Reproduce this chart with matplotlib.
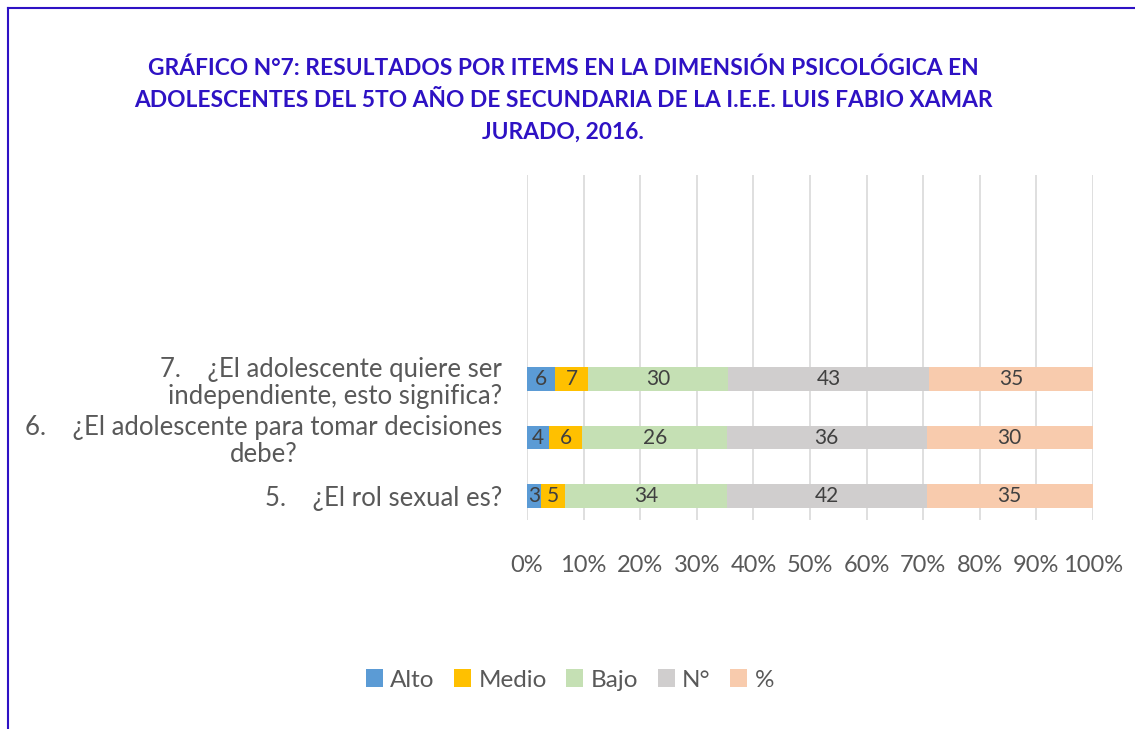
import matplotlib.pyplot as plt
from matplotlib.patches import Patch
from matplotlib.lines import Line2D
import numpy as np

plt.rcParams['font.family'] = ['Lato', 'DejaVu Sans']

items = ["5.    ¿El rol sexual es?",
         "6.    ¿El adolescente para tomar decisiones\ndebe?",
         "7.    ¿El adolescente quiere ser\nindependiente, esto significa?"]
series = ["Alto", "Medio", "Bajo", "N°", "%"]
alto = [3, 4, 6]
medio = [5, 6, 7]
bajo = [34, 26, 30]
numero = [42, 36, 43]
porc = [35, 30, 35]
colors = ['#5B9BD5', '#FFC000', '#C5E0B4', '#D0CECE', '#F8CBAD']

values = np.array([alto, medio, bajo, numero, porc], dtype=float)
totals = values.sum(axis=0)
shares = values / totals

fig = plt.figure(figsize=(11.35, 7.29), dpi=100)
ax = fig.add_axes([527 / 1135, 1 - 520 / 729, (1093 - 527) / 1135, (520 - 175) / 729])

y = np.arange(len(items))
left = np.zeros(len(items))
for i, name in enumerate(series):
    ax.barh(y, shares[i], left=left, height=0.4, color=colors[i], label=name, zorder=2)
    for j in range(len(items)):
        ax.text(left[j] + shares[i][j] / 2, y[j], f"{int(values[i][j])}",
                ha='center', va='center', fontsize=15, color='#404040', zorder=3)
    left += shares[i]

ax.set_xlim(0, 1)
ax.set_ylim(-0.41, 5.49)
ax.set_xticks(np.linspace(0, 1, 11))
ax.set_xticklabels([f"{k}%" for k in range(0, 101, 10)], fontsize=17, color='#595959')
ax.tick_params(axis='x', length=0, pad=25)
ax.set_yticks(y)
ax.set_yticklabels(items, fontsize=18.5, color='#595959', linespacing=1.1)
ax.tick_params(axis='y', length=0, pad=18)
for lab, ma in zip(ax.get_yticklabels(), ['right', 'center', 'right']):
    lab.set_multialignment(ma)
ax.grid(axis='x', color='#D9D9D9', linewidth=1.2, zorder=0)
for s in ax.spines.values():
    s.set_visible(False)

fig.text(563 / 1135, 1 - 100 / 729,
         "GRÁFICO N°7: RESULTADOS POR ITEMS EN LA DIMENSIÓN PSICOLÓGICA EN\n"
         "ADOLESCENTES DEL 5TO AÑO DE SECUNDARIA DE LA I.E.E. LUIS FABIO XAMAR\n"
         "JURADO, 2016.",
         ha='center', va='center', fontsize=16.4, fontweight='bold', color='#2E12C4',
         linespacing=1.62)

handles = [Patch(facecolor=c, edgecolor='none') for c in colors]
fig.legend(handles, series, loc='center', bbox_to_anchor=(570 / 1135, 1 - 680 / 729),
           ncol=5, frameon=False, fontsize=17.5, handlelength=0.7, handleheight=0.7,
           handletextpad=0.3, columnspacing=0.8, labelcolor='#595959')

fig.add_artist(Line2D([8 / 1135, 8 / 1135], [0, 1 - 8 / 729], color='#2E12C4', linewidth=1.5))
fig.add_artist(Line2D([8 / 1135, 1], [1 - 8 / 729, 1 - 8 / 729], color='#2E12C4', linewidth=1.5))

fig.savefig('out.png', dpi=100)
